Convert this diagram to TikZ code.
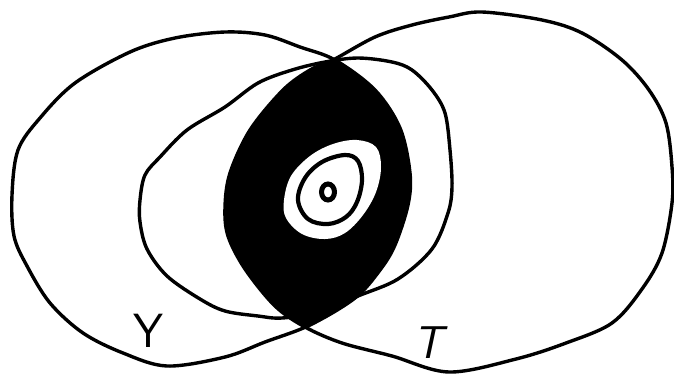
\documentclass[tikz,border=0pt]{standalone}
\usepackage{tikz}
\def\Ycurve{plot[smooth cycle, tension=0.55] coordinates {(12,195) (18,150) (40,118) (75,83) (130,52) (175,38) (225,32) (265,35) (300,47) (335,60) (375,90) (400,128) (410,173) (408,205) (395,245) (380,270) (355,298) (310,325) (265,342) (225,357) (167,366) (123,353) (83,333) (50,303) (27,266) (14,236)}}
\def\Tcurve{plot[smooth cycle, tension=0.55] coordinates {(333,60) (375,37) (412,25) (449,17) (482,12) (542,20) (582,33) (622,60) (649,90) (666,123) (672,167) (672,203) (662,253) (642,289) (612,323) (566,343) (516,359) (449,372) (392,356) (342,343) (305,327) (275,306) (245,269) (228,236) (225,207) (230,173) (250,130) (283,90) (310,70)}}
\def\Mcurve{plot[smooth cycle, tension=0.55] coordinates {(140,200) (145,175) (160,157) (187,130) (225,107) (258,83) (292,70) (325,62) (358,58) (392,62) (412,70) (432,90) (445,113) (450,150) (452,187) (448,213) (432,249) (398,279) (358,296) (320,312) (282,318) (258,316) (225,311) (200,299) (167,276) (147,249) (140,222)}}
\def\Blobcurve{plot[smooth cycle, tension=0.6] coordinates {(284,200) (291,176) (310,156) (333,144) (357,140) (376,147) (381,167) (376,192) (363,215) (345,233) (325,239) (302,234) (286,218)}}
\def\Ringcurve{plot[smooth cycle, tension=0.6] coordinates {(298,200) (305,178) (322,162) (345,155) (358,161) (362,180) (357,202) (346,217) (328,224) (308,219)}}
\tikzset{
  outline/.style={draw=black, line width=3.4pt, line join=round},
  ringline/.style={draw=black, line width=4.2pt},
  lbl/.style={inner sep=0pt, font=\fontsize{48}{48}\selectfont\sffamily}
}
\begin{document}
\begin{tikzpicture}[x=1pt,y=-1pt]
\useasboundingbox (0,0) rectangle (674,376);
\fill[white] (0,0) rectangle (674,376);
% lens Y and T
\begin{scope}
  \clip \Ycurve;
  \fill[black] \Tcurve;
\end{scope}
% outlines
\path[outline] \Ycurve;
\path[outline] \Tcurve;
\path[outline] \Mcurve;
% inner white blob with rings
\fill[white] \Blobcurve;
\path[ringline] \Ringcurve;
\draw[line width=5pt] (328,192) ellipse [x radius=6.5pt, y radius=8pt];
% labels
\node[lbl] (y) at (148,331) {Y};
\node[lbl, font=\fontsize{46}{46}\selectfont\sffamily\itshape] (t) at (428,343) {T};
\end{tikzpicture}
\end{document}
